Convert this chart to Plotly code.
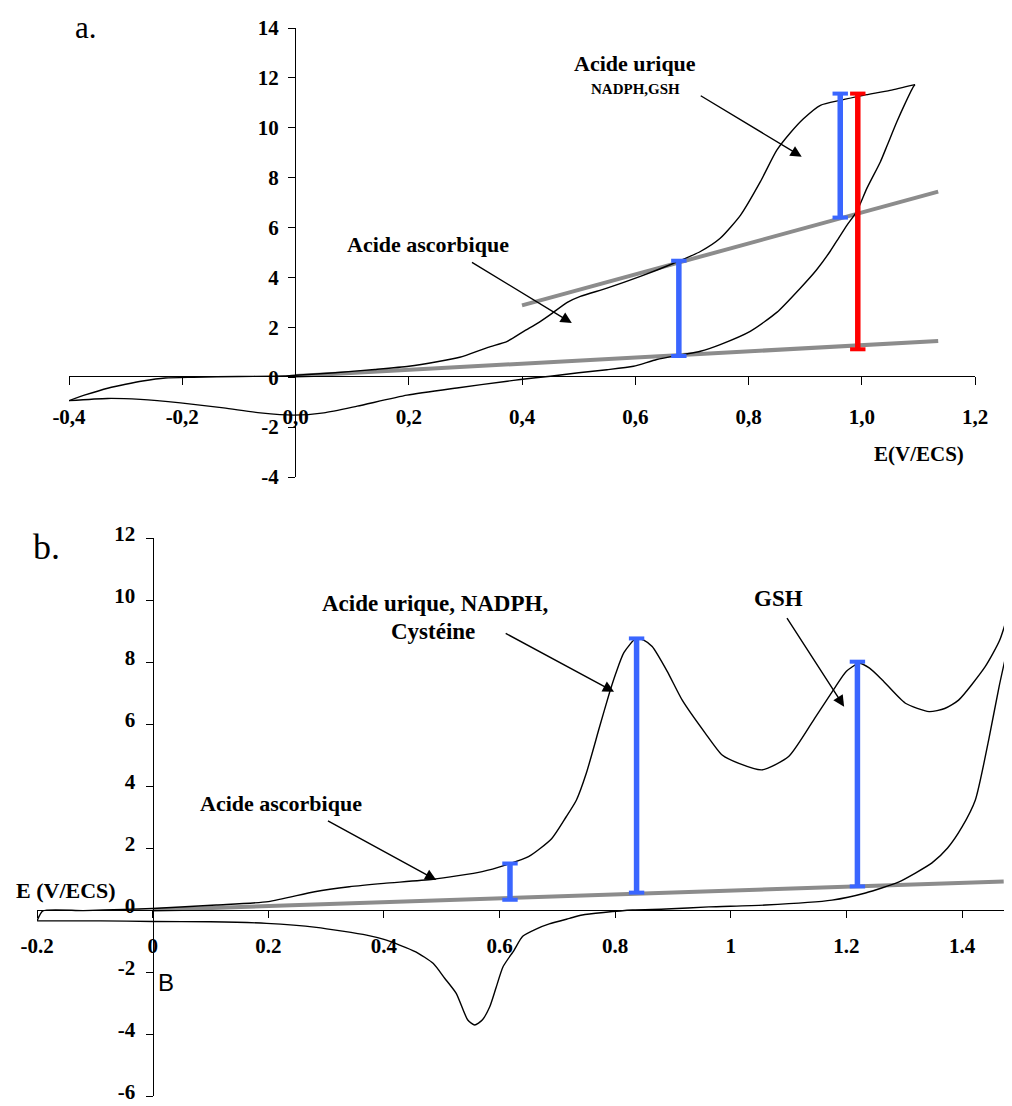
import plotly.graph_objects as go

# ---------------- Panel a data (E in V/ECS, I in nA) ----------------
Ea_fwd = [-0.40, -0.37, -0.33, -0.30, -0.27, -0.23, -0.18, -0.10, -0.02, 0.00, 0.07, 0.14,
          0.20, 0.25, 0.29, 0.34, 0.374, 0.403, 0.43, 0.45, 0.48, 0.503, 0.55, 0.609, 0.668,
          0.715, 0.75, 0.786, 0.821, 0.85, 0.874, 0.897, 0.927, 0.962, 1.003, 1.05, 1.094]
Ia_fwd = [-0.94, -0.70, -0.43, -0.28, -0.15, -0.03, 0.00, 0.03, 0.05, 0.08, 0.18, 0.31,
          0.44, 0.62, 0.80, 1.20, 1.44, 1.84, 2.20, 2.51, 3.00, 3.24, 3.57, 4.04, 4.57,
          5.04, 5.57, 6.50, 7.84, 9.10, 9.80, 10.36, 10.90, 11.10, 11.30, 11.50, 11.73]
Ea_rev = [1.094, 1.091, 1.075, 1.062, 1.045, 1.033, 1.009, 0.991, 0.974, 0.959, 0.944, 0.92,
          0.891, 0.85, 0.803, 0.75, 0.715, 0.685, 0.638, 0.597, 0.55, 0.50, 0.45, 0.397,
          0.374, 0.285, 0.197, 0.109, 0.05, -0.003, -0.062, -0.127, -0.203, -0.274, -0.332, -0.40]
Ia_rev = [11.73, 11.64, 10.90, 10.24, 9.30, 8.64, 7.57, 6.64, 6.10, 5.57, 5.04, 4.30,
          3.56, 2.60, 1.84, 1.31, 1.04, 0.91, 0.71, 0.44, 0.30, 0.18, 0.04, -0.09,
          -0.16, -0.43, -0.72, -1.16, -1.43, -1.52, -1.43, -1.23, -1.03, -0.89, -0.85, -0.94]
Ea_base_low = [0.0, 1.135]
Ia_base_low = [0.05, 1.45]
Ea_base_up = [0.40, 1.135]
Ia_base_up = [2.88, 7.44]
Ea_blue = [0.677, 0.962]
Ia_blue_bottom = [0.85, 6.40]
Ia_blue_top = [4.67, 11.37]
Ea_red = [0.993]
Ia_red_bottom = [1.12]
Ia_red_top = [11.37]

xa_tickvals = [-0.4, -0.2, 0.0, 0.2, 0.4, 0.6, 0.8, 1.0, 1.2]
xa_ticktext = ["-0,4", "-0,2", "0,0", "0,2", "0,4", "0,6", "0,8", "1,0", "1,2"]
ya_tickvals = [-4, -2, 0, 2, 4, 6, 8, 10, 12, 14]
ya_ticktext = ["-4", "-2", "0", "2", "4", "6", "8", "10", "12", "14"]

# ---------------- Panel b data ----------------
Eb_fwd = [-0.20, -0.19, -0.12, -0.05, 0.00, 0.11, 0.20, 0.28, 0.34, 0.40, 0.485, 0.57, 0.61,
          0.65, 0.69, 0.715, 0.733, 0.75, 0.773, 0.79, 0.801, 0.815, 0.836, 0.85, 0.864, 0.89,
          0.916, 0.956, 0.985, 1.014, 1.054, 1.10, 1.147, 1.181, 1.20, 1.222, 1.24, 1.262,
          1.302, 1.343, 1.37, 1.394, 1.44, 1.465, 1.486]
Ib_fwd = [-0.35, -0.03, -0.02, 0.02, 0.05, 0.16, 0.27, 0.59, 0.75, 0.86, 0.99, 1.24, 1.45,
          1.72, 2.30, 3.00, 3.55, 4.41, 5.91, 7.00, 7.63, 8.30, 8.76, 8.70, 8.50, 7.70,
          6.77, 5.70, 5.00, 4.73, 4.52, 4.95, 6.24, 7.20, 7.70, 7.96, 7.80, 7.42,
          6.67, 6.40, 6.50, 6.77, 7.85, 8.70, 9.95]
Eb_rev = [1.486, 1.464, 1.446, 1.423, 1.40, 1.375, 1.348, 1.32, 1.29, 1.233, 1.175, 1.06,
          0.962, 0.888, 0.83, 0.78, 0.743, 0.721, 0.686, 0.665, 0.64, 0.625, 0.606, 0.594,
          0.583, 0.57, 0.557, 0.545, 0.525, 0.505, 0.485, 0.455, 0.427, 0.40, 0.37, 0.283,
          0.197, 0.10, 0.00, -0.09, -0.20]
Ib_rev = [9.05, 7.20, 5.48, 3.55, 2.68, 2.00, 1.52, 1.20, 0.90, 0.55, 0.32, 0.16,
          0.10, 0.03, 0.00, -0.08, -0.16, -0.27, -0.45, -0.60, -0.85, -1.30, -1.83, -2.50,
          -3.12, -3.55, -3.71, -3.55, -2.69, -2.20, -1.72, -1.35, -1.13, -0.95, -0.81, -0.56,
          -0.43, -0.38, -0.37, -0.35, -0.35]
Eb_base = [0.0, 1.472]
Ib_base = [0.0, 0.92]
Eb_blue = [0.618, 0.837, 1.219]
Ib_blue_bottom = [0.33, 0.56, 0.76]
Ib_blue_top = [1.50, 8.76, 8.01]

xb_tickvals = [-0.2, 0.0, 0.2, 0.4, 0.6, 0.8, 1.0, 1.2, 1.4]
xb_ticktext = ["-0.2", "0", "0.2", "0.4", "0.6", "0.8", "1", "1.2", "1.4"]
yb_tickvals = [-6, -4, -2, 0, 2, 4, 6, 8, 10, 12]
yb_ticktext = ["-6", "-4", "-2", "0", "2", "4", "6", "8", "10", "12"]

# ---------------- Geometry (page pixels, body margin compensated) ----------------
OFF = 8                     # default HTML body margin
W, H = 1012 - OFF, 1106 - OFF

def px(xp):
    return (xp - OFF) / W

def py(yp):
    return 1 - (yp - OFF) / H

SERIF = "Liberation Serif"
BLACK = "#000000"
GREY = "#8c8c8c"
BLUE = "#3a66ff"
RED = "#ff0000"

fig = go.Figure()

def curve(x, y, xa, ya):
    fig.add_trace(go.Scatter(x=x, y=y, mode="lines", xaxis=xa, yaxis=ya,
                             line=dict(color=BLACK, width=1.4, shape="spline", smoothing=0.6),
                             hoverinfo="skip", showlegend=False))

def base(x, y, xa, ya):
    fig.add_trace(go.Scatter(x=x, y=y, mode="lines", xaxis=xa, yaxis=ya,
                             line=dict(color=GREY, width=4), hoverinfo="skip",
                             showlegend=False))

def bars(xs, lo, hi, color, xa, ya):
    for xv, a, b in zip(xs, lo, hi):
        fig.add_trace(go.Scatter(x=[xv, xv], y=[a, b], mode="lines+markers",
                                 xaxis=xa, yaxis=ya,
                                 line=dict(color=color, width=5.5),
                                 marker=dict(symbol="line-ew", size=11,
                                             line=dict(color=color, width=4)),
                                 hoverinfo="skip", showlegend=False))

# panel a
base(Ea_base_low, Ia_base_low, "x", "y")
base(Ea_base_up, Ia_base_up, "x", "y")
curve(Ea_fwd, Ia_fwd, "x", "y")
curve(Ea_rev, Ia_rev, "x", "y")
bars(Ea_blue, Ia_blue_bottom, Ia_blue_top, BLUE, "x", "y")
bars(Ea_red, Ia_red_bottom, Ia_red_top, RED, "x", "y")

# panel b
base(Eb_base, Ib_base, "x2", "y2")
curve(Eb_fwd, Ib_fwd, "x2", "y2")
curve(Eb_rev, Ib_rev, "x2", "y2")
bars(Eb_blue, Ib_blue_bottom, Ib_blue_top, BLUE, "x2", "y2")

tickfont = dict(family=SERIF, size=21, color=BLACK, weight="bold")
common = dict(showgrid=False, zeroline=False, showline=True, linecolor=BLACK,
              linewidth=1.3, ticks="outside", tickcolor=BLACK, tickwidth=1.3,
              tickfont=tickfont, tickmode="array", anchor="free", automargin=False,
              ticklabeloverflow="allow")

fig.update_layout(
    width=W, height=H, margin=dict(l=0, r=0, t=0, b=0, autoexpand=False),
    paper_bgcolor="white", plot_bgcolor="rgba(0,0,0,0)", showlegend=False,
    xaxis=dict(domain=[px(69), px(975)], range=[-0.4, 1.2], position=py(376),
               tickvals=xa_tickvals, ticktext=xa_ticktext, ticklen=8,
               ticklabelstandoff=14, **common),
    yaxis=dict(domain=[py(477), py(28)], range=[-4, 14], position=px(295),
               tickvals=ya_tickvals, ticktext=ya_ticktext, ticklen=7,
               ticklabelstandoff=5, **common),
    xaxis2=dict(domain=[px(37.1), 1.0], range=[-0.2, 1.4864], position=py(910),
                tickvals=xb_tickvals, ticktext=xb_ticktext, ticklen=7,
                ticklabelstandoff=10, **common),
    yaxis2=dict(domain=[py(1096), py(538)], range=[-6, 12],
                position=px(152.7), tickvals=yb_tickvals, ticktext=yb_ticktext,
                ticklen=7, ticklabelstandoff=6, ticklabelshift=-4, **common),
)

def label(text, x, y, xref, yref, size=21, bold=True, family=SERIF, yanchor="middle"):
    fig.add_annotation(text=text, x=x, y=y, xref=xref, yref=yref, showarrow=False,
                       xanchor="center", yanchor=yanchor,
                       font=dict(family=family, size=size, color=BLACK,
                                 weight="bold" if bold else "normal"))

def arrow(x, y, ax, ay, xref, yref):
    fig.add_annotation(text="", x=x, y=y, ax=ax, ay=ay, xref=xref, yref=yref,
                       axref=xref, ayref=yref, showarrow=True, arrowhead=2,
                       arrowsize=1.6, arrowwidth=1.4, arrowcolor=BLACK, standoff=0)

# panel a texts
label("a.", px(86), 1.0, "paper", "paper", size=31, bold=False, yanchor="top")
label("I(nA)", 0.0856, 14.2, "x", "y", size=21)
label("E(V/ECS)", 1.1015, -3.08, "x", "y", size=21)
label("Acide urique", 0.600, 12.56, "x", "y", size=22)
label("NADPH,GSH", 0.600, 11.54, "x", "y", size=15)
label("Acide ascorbique", 0.234, 5.32, "x", "y", size=22)
arrow(0.894, 8.84, 0.713, 11.32, "x", "y")
arrow(0.488, 2.17, 0.309, 4.64, "x", "y")

# panel b texts
label("b.", px(46), py(547), "paper", "paper", size=36, bold=False)
label("B", px(165.5), py(982), "paper", "paper", size=24, bold=False,
      family="Liberation Sans")
label("I (nA)", 0.123, 12.10, "x2", "y2", size=21)
label("E (V/ECS)", -0.1506, 0.645, "x2", "y2", size=22)
label("Acide urique, NADPH,", 0.488, 9.90, "x2", "y2", size=23)
label("Cystéine", 0.484, 8.97, "x2", "y2", size=23)
label("GSH", 1.0817, 10.06, "x2", "y2", size=23)
label("Acide ascorbique", 0.2216, 3.45, "x2", "y2", size=22)
arrow(0.798, 7.04, 0.608, 8.95, "x2", "y2")
arrow(1.196, 6.56, 1.0955, 9.46, "x2", "y2")
arrow(0.4905, 0.97, 0.3005, 2.90, "x2", "y2")

fig.write_html("out.html")
